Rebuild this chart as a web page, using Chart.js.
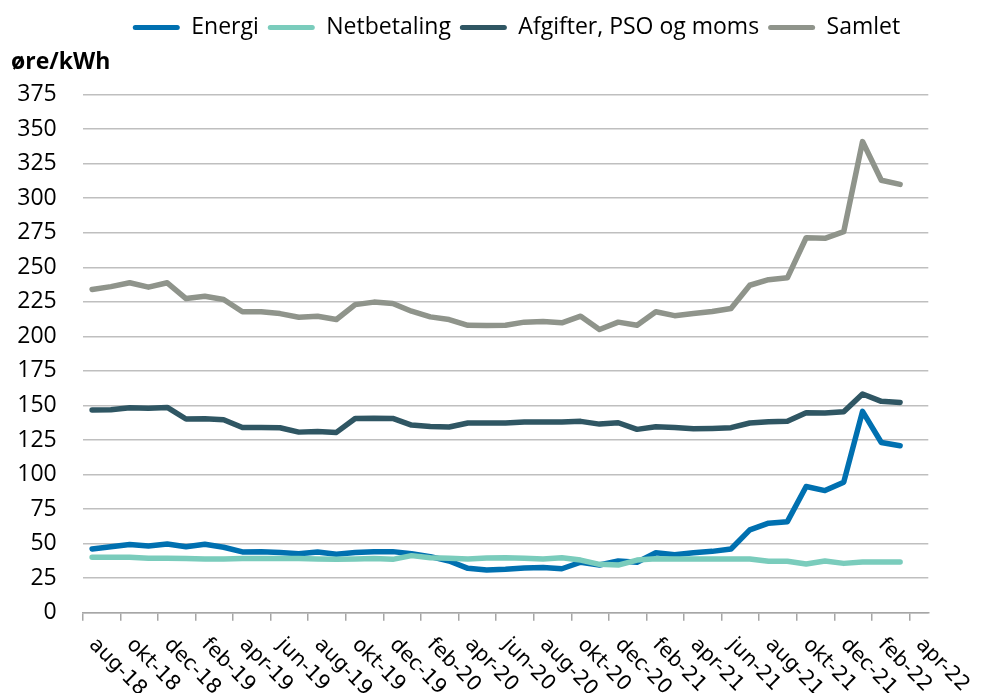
<!DOCTYPE html>
<html>
<head>
<meta charset="utf-8">
<script src="https://cdn.jsdelivr.net/npm/chart.js@4.4.1/dist/chart.umd.min.js"></script>
<style>
html,body{margin:0;padding:0;background:#fff;}
#wrap{width:981px;height:693px;position:relative;}
</style>
</head>
<body>
<div id="wrap"><canvas id="c" width="981" height="693"></canvas></div>
<script>
const categories = ['aug-18','sep-18','okt-18','nov-18','dec-18',
  'jan-19','feb-19','mar-19','apr-19','maj-19','jun-19','jul-19','aug-19','sep-19','okt-19','nov-19','dec-19',
  'jan-20','feb-20','mar-20','apr-20','maj-20','jun-20','jul-20','aug-20','sep-20','okt-20','nov-20','dec-20',
  'jan-21','feb-21','mar-21','apr-21','maj-21','jun-21','jul-21','aug-21','sep-21','okt-21','nov-21','dec-21',
  'jan-22','feb-22','mar-22','apr-22'];
const yTicks = [0,25,50,75,100,125,150,175,200,225,250,275,300,325,350,375];
const seriesNames = ['Energi','Netbetaling','Afgifter, PSO og moms','Samlet'];
const energi = [46.1,47.8,49.3,48.3,49.7,47.8,49.5,47.4,44.0,44.2,43.5,42.7,44.0,42.3,43.5,44.2,44.2,42.7,40.6,37.4,32.1,30.9,31.4,32.3,32.8,31.8,36.5,34.5,37.4,36.5,43.4,42.0,43.4,44.4,46.1,59.9,64.8,65.9,91.3,88.4,94.5,145.7,123.2,120.8];
const netbetaling = [40.1,40.1,40.1,39.4,39.4,39.2,38.9,38.9,39.2,39.2,39.2,39.2,38.9,38.6,38.9,39.2,38.6,41.3,39.8,39.4,38.9,39.6,39.8,39.4,38.9,39.8,38.1,35.0,34.5,38.1,39.1,38.9,38.9,38.9,38.9,38.9,37.2,37.2,35.2,37.4,35.7,36.7,36.7,36.7];
const afgifter = [146.7,146.9,148.4,147.9,148.6,140.2,140.4,139.7,134.1,134.1,133.9,130.7,131.2,130.5,140.6,140.8,140.6,135.8,134.8,134.4,137.3,137.3,137.3,138.0,138.0,138.0,138.5,136.5,137.5,132.7,134.6,134.1,133.2,133.4,133.9,137.3,138.2,138.5,144.7,144.5,145.5,158.3,153.0,152.2];
const samlet = [234,236,238.8,235.6,238.8,227.4,229,226.7,217.8,217.8,216.5,213.9,214.6,212.2,223,224.8,223.8,218.2,214.1,212.2,208,207.8,208,210.3,210.7,209.8,214.6,205,210.3,208,217.8,215,216.5,218,220.2,237,241,242.4,271.4,271,275.8,341,313,310];
const colors = ['#0070B0','#7ACCBC','#2F5663','#8F948B'];
const seriesData = [energi, netbetaling, afgifter, samlet];

const BASE_FONT = '"Open Sans", "Noto Sans", sans-serif';

const legendShift = {
  id: 'legendShift',
  afterLayout(chart) {
    const l = chart.legend;
    if (l) { l.left += 11; l.right += 11; }
  }
};

const xLabelPlugin = {
  id: 'xLabels',
  afterDraw(chart) {
    const xs = chart.scales.x;
    const ctx = chart.ctx;
    ctx.save();
    ctx.font = '20.5px "DejaVu Sans"';
    ctx.fillStyle = '#000';
    ctx.textAlign = 'left';
    ctx.textBaseline = 'middle';
    categories.forEach((lab, i) => {
      if (i % 2 !== 0) return;
      const x = xs.getPixelForValue(i);
      ctx.save();
      ctx.translate(x, xs.top + 29);
      ctx.rotate(Math.PI / 4);
      ctx.fillText(lab, 0, 0);
      ctx.restore();
    });
    ctx.restore();
  }
};

new Chart(document.getElementById('c'), {
  type: 'line',
  data: {
    labels: categories,
    datasets: seriesNames.map((n, i) => ({
      label: n,
      data: seriesData[i],
      borderColor: colors[i],
      backgroundColor: colors[i],
      borderWidth: 5.5,
      pointRadius: 0,
      pointHoverRadius: 0,
      tension: 0,
      borderCapStyle: 'round',
      borderJoinStyle: 'round',
      fill: false,
      order: 4 - i
    }))
  },
  options: {
    responsive: false,
    animation: false,
    events: [],
    layout: { padding: { left: 11, right: 52.7, top: 7, bottom: 0 } },
    plugins: {
      tooltip: { enabled: false },
      legend: {
        position: 'top',
        align: 'center',
        fullSize: false,
        weight: 3000,
        labels: {
          font: { family: BASE_FONT, size: 23 },
          color: '#000',
          boxWidth: 47,
          boxHeight: 5,
          padding: 9,
          useBorderRadius: true,
          borderRadius: 2.5,
          sort: (a, b) => a.datasetIndex - b.datasetIndex,
          generateLabels: chart => Chart.defaults.plugins.legend.labels.generateLabels(chart).map(l => ({...l, lineWidth: 0}))
        }
      },
      title: {
        display: true,
        text: 'øre/kWh',
        align: 'start',
        color: '#000',
        font: { family: BASE_FONT, size: 23, weight: 'bold' },
        padding: { top: 0, bottom: 18 }
      }
    },
    scales: {
      x: {
        type: 'category',
        offset: true,
        afterFit: s => { s.height = 80.3; },
        ticks: { display: false, autoSkip: false },
        grid: {
          display: true,
          offset: true,
          drawOnChartArea: false,
          drawTicks: true,
          tickLength: 8,
          lineWidth: 1.5,
          color: ctx => (ctx.index !== undefined && ctx.index % 2 === 0) ? '#A6A6A6' : 'rgba(0,0,0,0)',
          tickColor: ctx => (ctx.index !== undefined && ctx.index % 2 === 0) ? '#A6A6A6' : 'rgba(0,0,0,0)'
        },
        border: { display: true, color: '#A6A6A6', width: 1.5 }
      },
      y: {
        min: 0,
        max: 375,
        afterFit: s => { s.width = 71.7; },
        afterBuildTicks: s => { s.ticks = yTicks.map(v => ({ value: v })); },
        ticks: {
          font: { family: BASE_FONT, size: 23 },
          color: '#000',
          padding: 26
        },
        grid: { color: '#BFBFBF', lineWidth: 1.5, drawTicks: false },
        border: { display: false }
      }
    }
  },
  plugins: [legendShift, xLabelPlugin]
});
</script>
</body>
</html>
